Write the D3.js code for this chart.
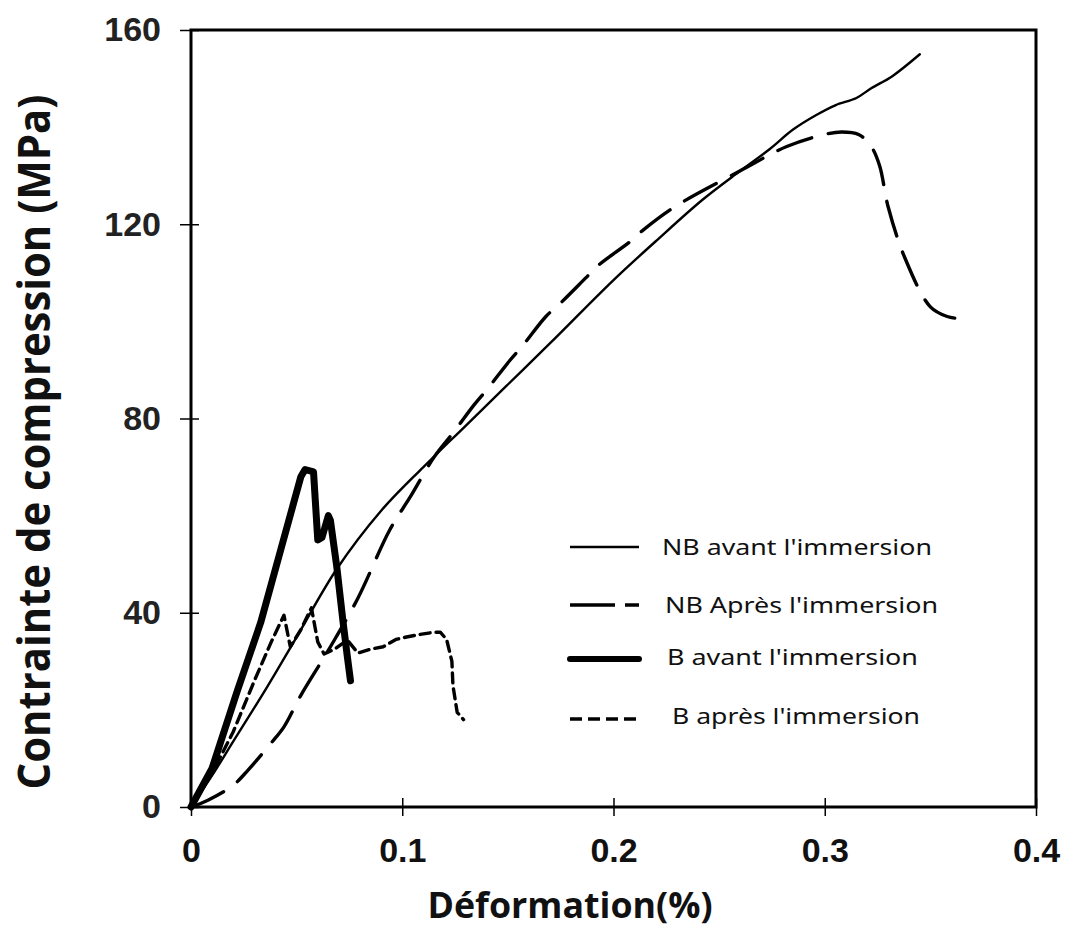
<!DOCTYPE html>
<html>
<head>
<meta charset="utf-8">
<script src="https://cdn.jsdelivr.net/npm/d3@7"></script>
<style>
  html, body { margin: 0; padding: 0; background: #fff; }
  svg { display: block; }
</style>
</head>
<body>
<svg id="chart" width="1065" height="933"></svg>
<script>
// strain (%) / stress (MPa)
const nbAvantX = [0, 0.01, 0.02, 0.036, 0.05, 0.069, 0.09, 0.11, 0.13, 0.15, 0.17, 0.2, 0.22, 0.242, 0.26, 0.274, 0.285, 0.296, 0.305, 0.315, 0.322, 0.332, 0.345];
const nbAvantY = [0, 6.5, 13.5, 24.7, 35, 49, 61, 70, 78.5, 87, 95.5, 108.5, 116.5, 125, 131, 135.5, 139.5, 142.5, 144.5, 146, 148, 150.5, 155];

const nbApresX = [0, 0.008, 0.02, 0.027, 0.038, 0.044, 0.052, 0.066, 0.079, 0.094, 0.104, 0.115, 0.124, 0.134, 0.14, 0.151, 0.157, 0.168, 0.175, 0.187, 0.193, 0.2075, 0.214, 0.229, 0.26, 0.282, 0.3, 0.308, 0.316, 0.322, 0.326, 0.33, 0.338, 0.35, 0.358, 0.365];
const nbApresY = [0, 1.4, 4.5, 7.6, 13.2, 16.5, 23, 33, 43, 57, 64, 72, 77, 82.8, 85.9, 92, 95, 101, 103.8, 109, 111.6, 116.3, 118.8, 123.6, 131, 136, 138.5, 139, 138.5, 136, 132, 123.6, 113, 103, 101, 100.5];

const bAvantX = [0, 0.01, 0.022, 0.033, 0.0425, 0.052, 0.054, 0.058, 0.059, 0.06, 0.062, 0.065, 0.066, 0.069, 0.072, 0.074, 0.0755];
const bAvantY = [0, 8, 24, 38, 53, 68, 69.5, 69, 62, 55, 55.5, 60, 59, 49.5, 38, 31, 26];

const bApresX = [0, 0.01, 0.02, 0.03, 0.038, 0.044, 0.047, 0.052, 0.057, 0.06, 0.063, 0.068, 0.074, 0.079, 0.085, 0.091, 0.097, 0.102, 0.108, 0.115, 0.118, 0.121, 0.1235, 0.124, 0.126, 0.129];
const bApresY = [0, 7, 15.5, 26, 34, 39.5, 33, 36.5, 41, 34, 31.5, 32.5, 34.4, 31.7, 32.5, 33, 34.5, 35, 35.5, 36, 36, 34.5, 30, 25, 19.5, 18];

const xTicks = [0, 0.1, 0.2, 0.3, 0.4];
const yTicks = [0, 40, 80, 120, 160];

const legendLabels = ["NB avant l'immersion", "NB Après l'immersion", "B avant l'immersion", "B après l'immersion"];

const series = [
  { xs: nbAvantX, ys: nbAvantY, width: 2.4, dash: null, curve: d3.curveCatmullRom },
  { xs: nbApresX, ys: nbApresY, width: 3.4, dash: "36,17", curve: d3.curveCatmullRom },
  { xs: bAvantX, ys: bAvantY, width: 7, dash: null, curve: d3.curveLinear },
  { xs: bApresX, ys: bApresY, width: 3.4, dash: "10,6", curve: d3.curveLinear }
];

const legendDash = [null, "45,10,14", null, "12,6"];

const svg = d3.select("#chart");
const margin = { left: 191, top: 30, right: 1036, bottom: 807 };

const x = d3.scaleLinear().domain([0, 0.4]).range([margin.left, margin.right]);
const y = d3.scaleLinear().domain([0, 160]).range([margin.bottom, margin.top]);

// curves
const line = d3.line().x(d => x(d[0])).y(d => y(d[1]));
series.forEach(s => {
  const pts = s.xs.map((v, i) => [v, s.ys[i]]);
  svg.append("path")
    .datum(pts)
    .attr("d", line.curve(s.curve))
    .attr("fill", "none")
    .attr("stroke", "#000")
    .attr("stroke-width", s.width)
    .attr("stroke-linejoin", "round")
    .attr("stroke-linecap", "round")
    .attr("stroke-dasharray", s.dash);
});

// frame
svg.append("rect")
  .attr("x", margin.left).attr("y", margin.top)
  .attr("width", margin.right - margin.left)
  .attr("height", margin.bottom - margin.top)
  .attr("fill", "none").attr("stroke", "#000").attr("stroke-width", 3);

// axes
const xAxis = svg.append("g")
  .attr("transform", `translate(0,${margin.bottom})`)
  .call(d3.axisBottom(x).tickValues(xTicks).tickFormat(d => d === 0 ? "0" : d3.format(".1f")(d)).tickSizeOuter(0).tickPadding(25));
xAxis.select(".domain").remove();
xAxis.selectAll(".tick line").attr("y1", -9).attr("y2", 9).attr("stroke-width", 1.5);
xAxis.selectAll(".tick text")
  .attr("font-family", "Liberation Sans, Arial, sans-serif")
  .attr("font-weight", "bold").attr("font-size", 34).attr("fill", "#111");

const yAxis = svg.append("g")
  .attr("transform", `translate(${margin.left},0)`)
  .call(d3.axisLeft(y).tickValues(yTicks).tickSizeOuter(0).tickPadding(24));
yAxis.select(".domain").remove();
yAxis.selectAll(".tick line").attr("x1", -11).attr("x2", 8).attr("stroke-width", 1.5);
yAxis.selectAll(".tick text")
  .attr("font-family", "Liberation Sans, Arial, sans-serif")
  .attr("font-weight", "bold").attr("font-size", 34).attr("fill", "#222");

// axis titles
svg.append("text")
  .attr("x", 570).attr("y", 918)
  .attr("text-anchor", "middle")
  .attr("font-family", "Open Sans, sans-serif")
  .attr("font-weight", "bold").attr("font-size", 36).attr("fill", "#111")
  .attr("textLength", 285).attr("lengthAdjust", "spacingAndGlyphs")
  .text("Déformation(%)");

svg.append("text")
  .attr("transform", "translate(50,442) rotate(-90)")
  .attr("text-anchor", "middle")
  .attr("font-family", "Open Sans, sans-serif")
  .attr("font-weight", "bold").attr("font-size", 44).attr("fill", "#111")
  .attr("textLength", 695).attr("lengthAdjust", "spacingAndGlyphs")
  .text("Contrainte de compression (MPa)");

// legend
const legendRows = [547, 605, 659, 719];
const legendText = [547, 605, 657, 716];
const legendTextX = [662, 665, 667, 672];
const legendTextW = [270, 273, 251, 248];
legendLabels.forEach((lab, i) => {
  svg.append("line")
    .attr("x1", 570).attr("x2", 639)
    .attr("y1", legendRows[i]).attr("y2", legendRows[i])
    .attr("stroke", "#000")
    .attr("stroke-width", series[i].width === 7 ? 6 : series[i].width)
    .attr("stroke-linecap", series[i].width === 7 ? "round" : "butt")
    .attr("stroke-dasharray", legendDash[i]);
  svg.append("text")
    .attr("x", legendTextX[i]).attr("y", legendText[i])
    .attr("dy", "0.35em")
    .attr("font-family", "Noto Sans, sans-serif")
    .attr("font-size", 22).attr("fill", "#111")
    .attr("textLength", legendTextW[i]).attr("lengthAdjust", "spacingAndGlyphs")
    .text(lab);
});
</script>
</body>
</html>
